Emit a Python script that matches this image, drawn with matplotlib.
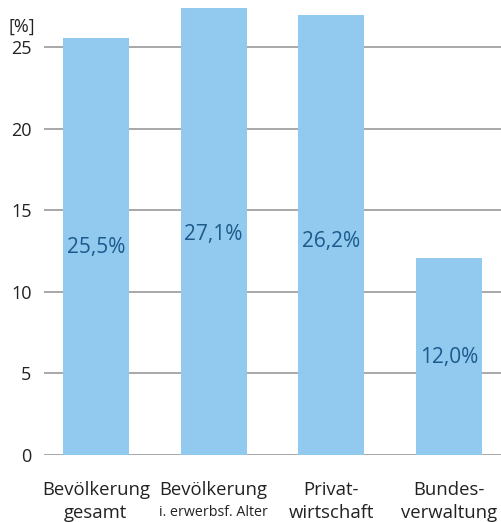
import matplotlib
matplotlib.use("Agg")
import matplotlib.pyplot as plt

categories_line1 = ["Bevölkerung", "Bevölkerung", "Privat-", "Bundes-"]
categories_line2 = ["gesamt", "i. erwerbsf. Alter", "wirtschaft", "verwaltung"]
bar_heights = [25.6, 27.4, 27.0, 12.1]
label_values = [25.5, 27.1, 26.2, 12.0]
value_labels = ["25,5%", "27,1%", "26,2%", "12,0%"]
yticks = [0, 5, 10, 15, 20, 25]

plt.rcParams['font.family'] = ['Open Sans', 'DejaVu Sans']

fig = plt.figure(figsize=(5.01, 5.22), dpi=100)
ax = fig.add_axes([44/501, 67/522, 1 - 44/501, 455/522])

x = list(range(len(bar_heights)))
ax.bar(x, bar_heights, width=0.56, color="#92c9ee", zorder=2)
ax.set_xlim(-0.44, 3.44)
ax.set_ylim(0, 27.9)
ax.set_yticks(yticks)
ax.set_yticklabels([str(t) for t in yticks], fontsize=13, color="#222222")
ax.yaxis.grid(True, color="#999999", linewidth=1.2, zorder=1)
ax.tick_params(axis="y", length=0, pad=9)
ax.set_xticks([])
for s in ax.spines.values():
    s.set_visible(False)

for xi, v, lab in zip(x, label_values, value_labels):
    ax.text(xi, v / 2, lab, ha="center", va="center", fontsize=15, color="#1b5a8c", zorder=3)

for xi, l1, l2 in zip(x, categories_line1, categories_line2):
    ax.text(xi, -2.15, l1, ha="center", va="center", fontsize=13.3, color="#222222")
    if l2.startswith("i."):
        ax.text(xi, -3.55, l2, ha="center", va="center", fontsize=10.3, color="#222222")
    else:
        ax.text(xi, -3.55, l2, ha="center", va="center", fontsize=13.3, color="#222222")

fig.text(22/501, 1 - 27/522, "[%]", ha="center", va="center", fontsize=13, color="#222222")

fig.savefig("out.png", dpi=100)
